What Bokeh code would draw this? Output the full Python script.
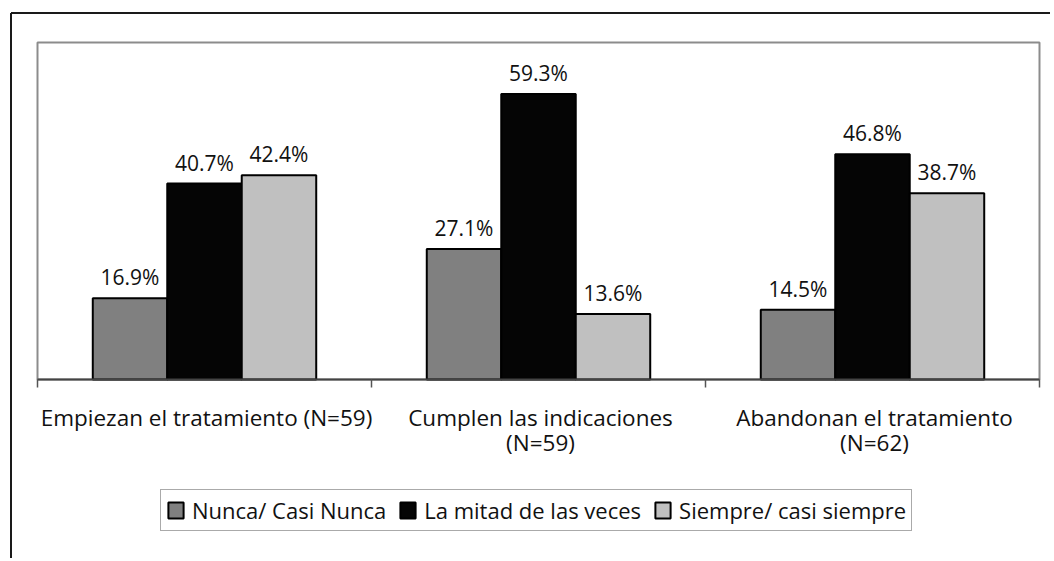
import math
from bokeh.plotting import figure
from bokeh.models import Range1d, ColumnDataSource, LabelSet, Legend, LegendItem
from bokeh.embed import file_html
from bokeh.resources import INLINE
from bokeh.core.properties import value

categories = ["Empiezan el tratamiento (N=59)",
              "Cumplen las indicaciones\n(N=59)",
              "Abandonan el tratamiento\n(N=62)"]
series = ["Nunca/ Casi Nunca", "La mitad de las veces", "Siempre/ casi siempre"]
nunca = [16.9, 27.1, 14.5]
mitad = [40.7, 59.3, 46.8]
siempre = [42.4, 13.6, 38.7]
colors = ["#808080", "#050505", "#c0c0c0"]
y_max = 70

FONT = "Open Sans"

# canvas geometry (pixels)
W, H = 1050, 558
PL, PR, PT, PB = 37, 1039, 42, 379          # plot-area box
ncat = len(categories)
ppx = (PR - PL) / ncat
ppy = (PB - PT) / y_max
x_start = -PL / ppx
x_end = ncat + (W - PR) / ppx
y_start = -(H - PB) / ppy
y_end = y_max + PT / ppy

def X(px):
    return x_start + px / ppx

def Y(py):
    return y_end - py / ppy

p = figure(width=W, height=H, x_range=Range1d(x_start, x_end),
           y_range=Range1d(y_start, y_end), output_backend="svg",
           toolbar_location=None, x_axis_location=None, y_axis_location=None,
           min_border=0)
p.xgrid.visible = False
p.ygrid.visible = False
p.outline_line_color = None
p.background_fill_color = "white"
p.border_fill_color = "white"

# outer chart border (left and top visible)
p.segment(x0=[X(10.5), X(10.5)], y0=[Y(12.5), Y(12.5)],
          x1=[X(10.5), X(1200)], y1=[Y(700), Y(12.5)],
          line_color="#1a1a1a", line_width=2)

# plot-area frame
p.quad(left=[0], right=[ncat], bottom=[0], top=[y_max], fill_color=None,
       line_color="#8c8c8c", line_width=2)

centers = [i + 0.5 for i in range(ncat)]
bounds = [float(i) for i in range(ncat + 1)]

width = 0.223
items = []
for i, (vals, name, col) in enumerate(zip([nunca, mitad, siempre], series, colors)):
    xs = [c + (i - 1) * width for c in centers]
    src = ColumnDataSource(dict(x=xs, top=vals, label=[f"{v:.1f}%" for v in vals]))
    r = p.vbar(x="x", top="top", bottom=0, width=width, source=src,
               fill_color=col, line_color="black", line_width=2)
    items.append(LegendItem(label=name, renderers=[r]))
    p.add_layout(LabelSet(x="x", y="top", text="label", source=src,
                          text_align="center", text_baseline="alphabetic",
                          y_offset=13, text_font=value(FONT),
                          text_font_size="21px", text_color="#111111"))

# category axis line and boundary ticks
p.segment(x0=[0], y0=[0], x1=[ncat], y1=[0], line_color="#444444", line_width=2)
p.ray(x=bounds, y=[0] * len(bounds), length=8, length_units="screen",
      angle=-math.pi / 2, line_color="#555555", line_width=1.5)

# category labels
p.text(x=centers, y=[0] * ncat, text=categories, text_align="center",
       text_baseline="top", y_offset=22, x_offset=2, text_font=value(FONT),
       text_font_size="22.5px", text_color="#111111", text_line_height=0.83)

legend = Legend(items=items, orientation="horizontal", location=(160, H - 531),
                glyph_width=19, glyph_height=20, label_standoff=7, spacing=12,
                padding=5, margin=0, border_line_color="#555555",
                border_line_width=1, label_text_font=FONT,
                label_text_font_size="22px", label_text_color="#111111",
                background_fill_color="white")
p.add_layout(legend)

open("out.html", "w").write(file_html(p, INLINE))
